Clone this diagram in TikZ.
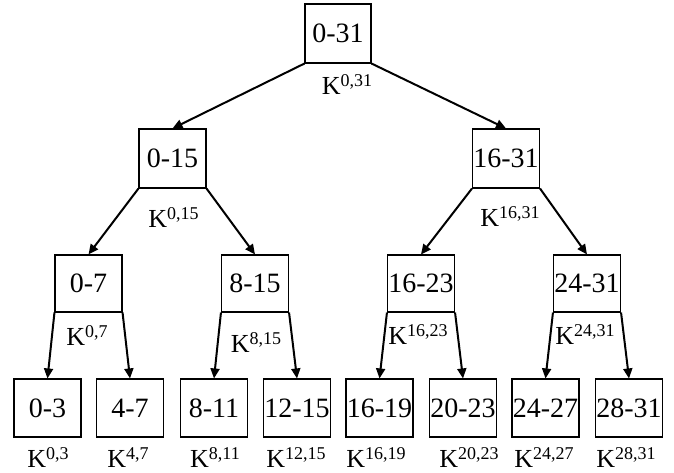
\documentclass[tikz,border=0pt]{standalone}
\usepackage{fontspec}
\setmainfont{Liberation Serif}
\usetikzlibrary{arrows.meta}
\newcommand{\kl}[1]{K\raisebox{8pt}{\fontsize{18}{18}\selectfont #1}}
\begin{document}
\begin{tikzpicture}[x=1pt,y=-1pt,
  box/.style={draw, line width=1.1pt, minimum width=67pt, minimum height=58pt, inner sep=0pt, font=\fontsize{28}{28}\selectfont},
  klab/.style={anchor=base, inner sep=0pt, font=\fontsize{26}{26}\selectfont},
  edge/.style={line width=2pt, -{Triangle[length=10pt,width=9pt]}}]
\useasboundingbox (0,0) rectangle (674,473);
% level 1
\node[box, minimum width=66pt, minimum height=59pt] (n031) at (338,33.5) {0-31};
% level 2
\node[box, minimum height=59pt] (n015) at (172.5,158.5) {0-15};
\node[box, minimum height=59pt] (n1631) at (506,158.5) {16-31};
% level 3
\node[box, minimum height=57pt] (n07) at (88.5,283.5) {0-7};
\node[box, minimum height=57pt] (n815) at (255,283.5) {8-15};
\node[box, minimum height=57pt] (n1623) at (421,283.5) {16-23};
\node[box, minimum height=57pt] (n2431) at (587,283.5) {24-31};
% level 4
\node[box] (n03) at (47.5,408) {0-3};
\node[box] (n47) at (130,408) {4-7};
\node[box] (n811) at (214,408) {8-11};
\node[box] (n1215) at (297,408) {12-15};
\node[box] (n1619) at (379.5,408) {16-19};
\node[box] (n2023) at (463,408) {20-23};
\node[box] (n2427) at (545.5,408) {24-27};
\node[box] (n2831) at (629,408) {28-31};
% labels
\node[klab] (k031) at (347,95) {\kl{0,31}};
\node[klab] (k015) at (173.5,227) {\kl{0,15}};
\node[klab] (k1631) at (510,226) {\kl{16,31}};
\node[klab] (k07) at (87,345) {\kl{0,7}};
\node[klab] (k815) at (256,352) {\kl{8,15}};
\node[klab] (k1623) at (418,344) {\kl{16,23}};
\node[klab] (k2431) at (585,344) {\kl{24,31}};
\node[klab] (k03) at (48,467) {\kl{0,3}};
\node[klab] (k47) at (128,467) {\kl{4,7}};
\node[klab] (k811) at (215,467) {\kl{8,11}};
\node[klab] (k1215) at (296,467) {\kl{12,15}};
\node[klab] (k1619) at (376,467) {\kl{16,19}};
\node[klab] (k2023) at (469,467) {\kl{20,23}};
\node[klab] (k2427) at (544,467) {\kl{24,27}};
\node[klab] (k2831) at (626,467) {\kl{28,31}};
% edges
\draw[edge] (n031.south west) -- (n015.north);
\draw[edge] (n031.south east) -- (n1631.north);
\draw[edge] (n015.south west) -- (n07.north);
\draw[edge] (n015.south east) -- (n815.north);
\draw[edge] (n1631.south west) -- (n1623.north);
\draw[edge] (n1631.south east) -- (n2431.north);
\draw[edge] (n07.south west) -- (n03.north);
\draw[edge] (n07.south east) -- (n47.north);
\draw[edge] (n815.south west) -- (n811.north);
\draw[edge] (n815.south east) -- (n1215.north);
\draw[edge] (n1623.south west) -- (n1619.north);
\draw[edge] (n1623.south east) -- (n2023.north);
\draw[edge] (n2431.south west) -- (n2427.north);
\draw[edge] (n2431.south east) -- (n2831.north);
\end{tikzpicture}
\end{document}
